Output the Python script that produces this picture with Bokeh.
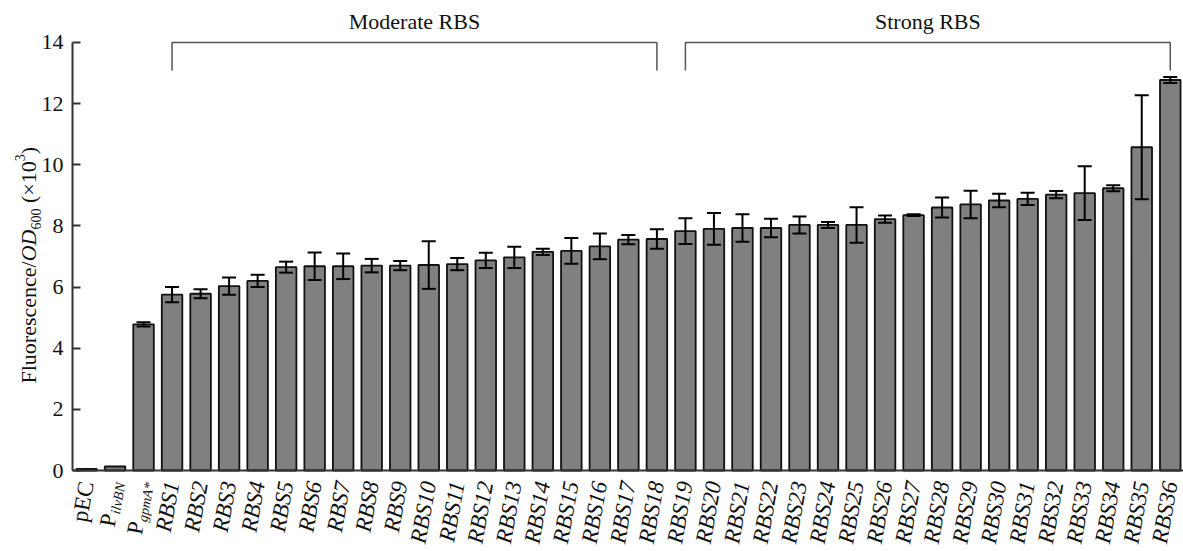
import math
from bokeh.plotting import figure
from bokeh.models import Range1d, Label, Whisker, ColumnDataSource, TeeHead, FixedTicker
from bokeh.core.properties import value
from bokeh.embed import file_html
from bokeh.resources import INLINE

# ---------------- data ----------------
categories = ["pEC", "PilvBN", "PgpmA*"] + ["RBS%d" % i for i in range(1, 37)]
label_main = ["pEC", "P", "P"] + ["RBS%d" % i for i in range(1, 37)]
label_sub = ["", "ilvBN", "gpmA*"] + [""] * 36
means = [0.05, 0.13, 4.78,
         5.75, 5.78, 6.03, 6.20, 6.65, 6.68, 6.68, 6.70, 6.70,
         6.72, 6.75, 6.87, 6.97, 7.15, 7.18, 7.33, 7.55, 7.57,
         7.83, 7.90, 7.93, 7.93, 8.03, 8.03, 8.03, 8.22, 8.35,
         8.60, 8.70, 8.83, 8.88, 9.02, 9.07, 9.23, 10.57, 12.77]
errors = [0.0, 0.0, 0.07,
          0.25, 0.15, 0.28, 0.20, 0.18, 0.45, 0.42, 0.22, 0.15,
          0.78, 0.20, 0.25, 0.35, 0.10, 0.42, 0.42, 0.15, 0.32,
          0.42, 0.52, 0.45, 0.30, 0.28, 0.10, 0.58, 0.12, 0.03,
          0.33, 0.45, 0.22, 0.20, 0.12, 0.88, 0.10, 1.70, 0.10]
y_ticks = [0, 2, 4, 6, 8, 10, 12, 14]
groups = ["Moderate RBS", "Strong RBS"]
group_start = ["RBS1", "RBS19"]
group_end = ["RBS18", "RBS36"]

FONT = "Liberation Serif"
W, H = 1183, 551

# pixel geometry of the data frame
X0, PX_X = 86.0, 28.52     # page x of first bar, px per category
Y0, PX_Y = 470.0, 30.58    # page y of value 0, px per unit

def px2dx(px):
    return (px - X0) / PX_X
def py2dy(py):
    return (Y0 - py) / PX_Y

n = len(categories)
xs = list(range(n))
p = figure(width=W, height=H,
           x_range=Range1d(px2dx(0), px2dx(W)), y_range=Range1d(py2dy(H), py2dy(0)),
           output_backend="svg", toolbar_location=None,
           min_border_left=0, min_border_right=0, min_border_top=0, min_border_bottom=0)
p.outline_line_color = None
p.grid.visible = False
p.background_fill_color = "white"
p.border_fill_color = "white"

src = ColumnDataSource(dict(x=xs, top=means))
p.vbar(x="x", top="top", bottom=0, width=0.72, source=src,
       fill_color="#808080", line_color="#111111", line_width=1.8)

has_err = [i for i in range(n) if errors[i] > 0]
esrc = ColumnDataSource(dict(x=[xs[i] for i in has_err],
                             upper=[means[i] + errors[i] for i in has_err],
                             lower=[means[i] - errors[i] for i in has_err]))
w = Whisker(base="x", upper="upper", lower="lower", source=esrc, level="annotation",
            line_width=2, line_color="black",
            upper_head=TeeHead(size=14, line_width=2, line_color="black"),
            lower_head=TeeHead(size=14, line_width=2, line_color="black"))
p.add_layout(w)

# brackets
bx, by, cx = [], [], []
for s, e in zip(group_start, group_end):
    i0, i1 = categories.index(s), categories.index(e)
    bx.append([i0, i0, i1, i1])
    by.append([13.08, 14.0, 14.0, 13.08])
    cx.append((i0 + i1) / 2)
p.multi_line(xs=bx, ys=by, line_color="#555555", line_width=1.5)
p.text(x=cx, y=[py2dy(21)] * len(cx), text=groups, text_font=value(FONT),
       text_font_size="22px", text_align="center", text_baseline="alphabetic",
       text_color="#111111")

# axes (fixed at the frame's data origin)
ya = p.yaxis[0]
ya.fixed_location = px2dx(72)
ya.ticker = FixedTicker(ticks=y_ticks)
ya.bounds = (0, 14)
ya.major_tick_in = 8
ya.major_tick_out = 0
ya.minor_tick_line_color = None
ya.major_label_standoff = 9
ya.major_label_text_font = FONT
ya.major_label_text_font_size = "22px"
ya.major_label_text_color = "#111111"
ya.axis_line_color = "#333333"
ya.axis_line_width = 2
ya.major_tick_line_color = "#333333"
ya.major_tick_line_width = 2

xa = p.xaxis[0]
xa.fixed_location = 0
xa.bounds = (px2dx(72), px2dx(W))
xa.ticker = FixedTicker(ticks=[])
xa.major_label_text_font_size = "0px"
xa.major_tick_line_color = None
xa.minor_tick_line_color = None
xa.axis_line_color = "#333333"
xa.axis_line_width = 2

# char widths (em) for width estimates
W_IT = {"i": 0.278, "l": 0.278, "v": 0.444, "B": 0.611, "N": 0.667,
        "g": 0.5, "p": 0.5, "m": 0.722, "A": 0.611, "*": 0.5}
def width_it(s, size):
    return sum(W_IT.get(c, 0.5) for c in s) * size

# x tick labels (rotated)
th = math.radians(80)
d = (math.cos(th), math.sin(th))
u = (-math.sin(th), math.cos(th))
y0 = py2dy(481)
for i in range(n):
    main, sub = label_main[i], label_sub[i]
    style = "normal" if i < 3 else "italic"
    if not sub:
        p.add_layout(Label(x=i, y=y0, text=main, angle=th, text_font=FONT,
                           text_font_size="23px", text_font_style=style,
                           text_align="right", text_baseline="middle",
                           text_color="#111111"))
    else:
        sh = 6
        sx, sy = i + (-u[0] * sh) / PX_X, y0 + (-u[1] * sh) / PX_Y
        p.add_layout(Label(x=sx, y=sy, text=sub, angle=th, text_font=FONT,
                           text_font_size="14px", text_font_style="italic",
                           text_align="right", text_baseline="middle",
                           text_color="#111111"))
        ws = width_it(sub, 14) + 1
        mx, my = i - d[0] * ws / PX_X, y0 - d[1] * ws / PX_Y
        p.add_layout(Label(x=mx, y=my, text=main, angle=th, text_font=FONT,
                           text_font_size="23px", text_font_style="normal",
                           text_align="right", text_baseline="middle",
                           text_color="#111111"))

# y axis label in pieces: (text, size, style, baseline shift px, advance em)
pieces = [("Fluorescence/", 22, "normal", 0, 5.554),
          ("OD", 22, "italic", 0, 1.444),
          ("600", 14, "normal", 7, 1.5 + 0.25 * 22 / 14),
          ("(\u00d710", 22, "normal", 0, 1.897),
          ("3", 14, "normal", -9, 0.5),
          (")", 22, "normal", 0, 0.333)]
ycur = 383
for txt, size, style, shift, em in pieces:
    p.add_layout(Label(x=px2dx(28 + shift), y=py2dy(ycur), text=txt, angle=math.pi / 2,
                       text_font=FONT, text_font_size="%dpx" % size, text_font_style=style,
                       text_align="left", text_baseline="alphabetic", text_color="#111111"))
    ycur -= em * size

open("out.html", "w").write(file_html(p, INLINE))
